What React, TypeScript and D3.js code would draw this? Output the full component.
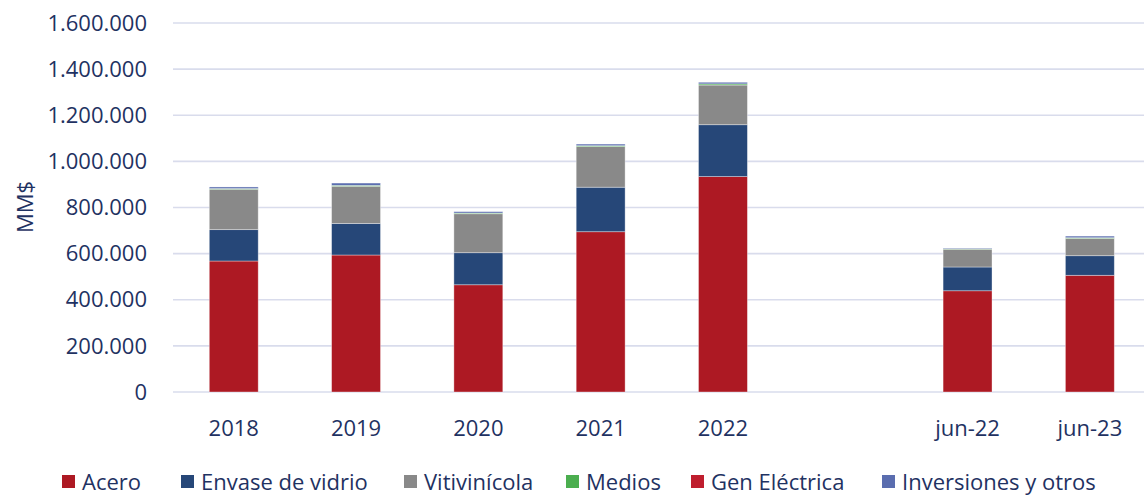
import React from "react";
import * as d3 from "d3";

const categories = ["2018", "2019", "2020", "2021", "2022", "", "jun-22", "jun-23"];
const acero = [568000, 594000, 465000, 695000, 934000, 0, 439000, 506000];
const envaseVidrio = [136000, 137000, 139000, 193000, 225000, 0, 103000, 85000];
const vitivinicola = [175000, 161000, 169000, 176000, 172000, 0, 77000, 75000];
const medios = [3000, 4000, 3000, 4000, 5000, 0, 2000, 3000];
const genElectrica = [0, 0, 0, 0, 0, 0, 0, 0];
const inversiones = [7000, 10000, 6000, 7000, 7000, 0, 3000, 7000];
const yTicks = [0, 200000, 400000, 600000, 800000, 1000000, 1200000, 1400000, 1600000];

const seriesNames = ["Acero", "Envase de vidrio", "Vitivinícola", "Medios", "Gen Eléctrica", "Inversiones y otros"];
const seriesData = [acero, envaseVidrio, vitivinicola, medios, genElectrica, inversiones];
const colors = ["#AD1923", "#264778", "#898989", "#4BAE4F", "#BF1E2E", "#5A6DAF"];

const W = 1144;
const H = 495;
const TEXT = "#1F3262";
const FONT = "'Open Sans', 'Noto Sans', sans-serif";

export default function App() {
  const x = d3.scaleBand<string>()
    .domain(categories.map((c, i) => String(i)))
    .range([172.6, 1151])
    .paddingInner(0.6)
    .paddingOuter(0.3);
  const y = d3.scaleLinear().domain([0, 1600000]).range([392, 23]);

  const rows = categories.map((c, i) => {
    const r: any = { idx: String(i) };
    seriesNames.forEach((s, j) => (r[s] = seriesData[j][i]));
    return r;
  });
  const stacked = d3.stack().keys(seriesNames)(rows);

  const fmt = (v: number) => d3.format(",")(v).replace(/,/g, ".");

  const legendX = [62, 181, 404, 566, 691, 882];

  return (
    <svg width={W} height={H} style={{ position: "absolute", left: 0, top: 0, background: "#fff" }} fontFamily={FONT}>
      {yTicks.map((t) => (
        <g key={t}>
          <line x1={173} x2={W} y1={y(t)} y2={y(t)} stroke="#D9DCEC" strokeWidth={1.6} />
          <text x={147} y={y(t)} dy="0.35em" textAnchor="end" fontSize={22} fill={TEXT}>
            {fmt(t)}
          </text>
        </g>
      ))}
      <text transform="translate(33,207) rotate(-90)" textAnchor="middle" fontSize={22} fill={TEXT}>
        MM$
      </text>
      {stacked.map((layer, j) => (
        <g key={layer.key} fill={colors[j]}>
          {layer.map((d: any, i: number) => {
            const h = y(d[0]) - y(d[1]);
            if (h <= 0) return null;
            return (
              <rect
                key={i}
                x={x(String(i))}
                width={x.bandwidth()}
                y={y(d[1])}
                height={h}
                stroke="#ffffff"
                strokeOpacity={0.45}
                strokeWidth={0.8}
              />
            );
          })}
        </g>
      ))}
      {categories.map((c, i) =>
        c ? (
          <text key={i} x={(x(String(i)) as number) + x.bandwidth() / 2} y={436} textAnchor="middle" fontSize={22} fill={TEXT}>
            {c}
          </text>
        ) : null
      )}
      {seriesNames.map((s, j) => (
        <g key={s}>
          <rect x={legendX[j]} y={475} width={13} height={13} fill={colors[j]} />
          <text x={legendX[j] + 20} y={482} dy="0.36em" fontSize={22} fill={TEXT}>
            {s}
          </text>
        </g>
      ))}
    </svg>
  );
}
